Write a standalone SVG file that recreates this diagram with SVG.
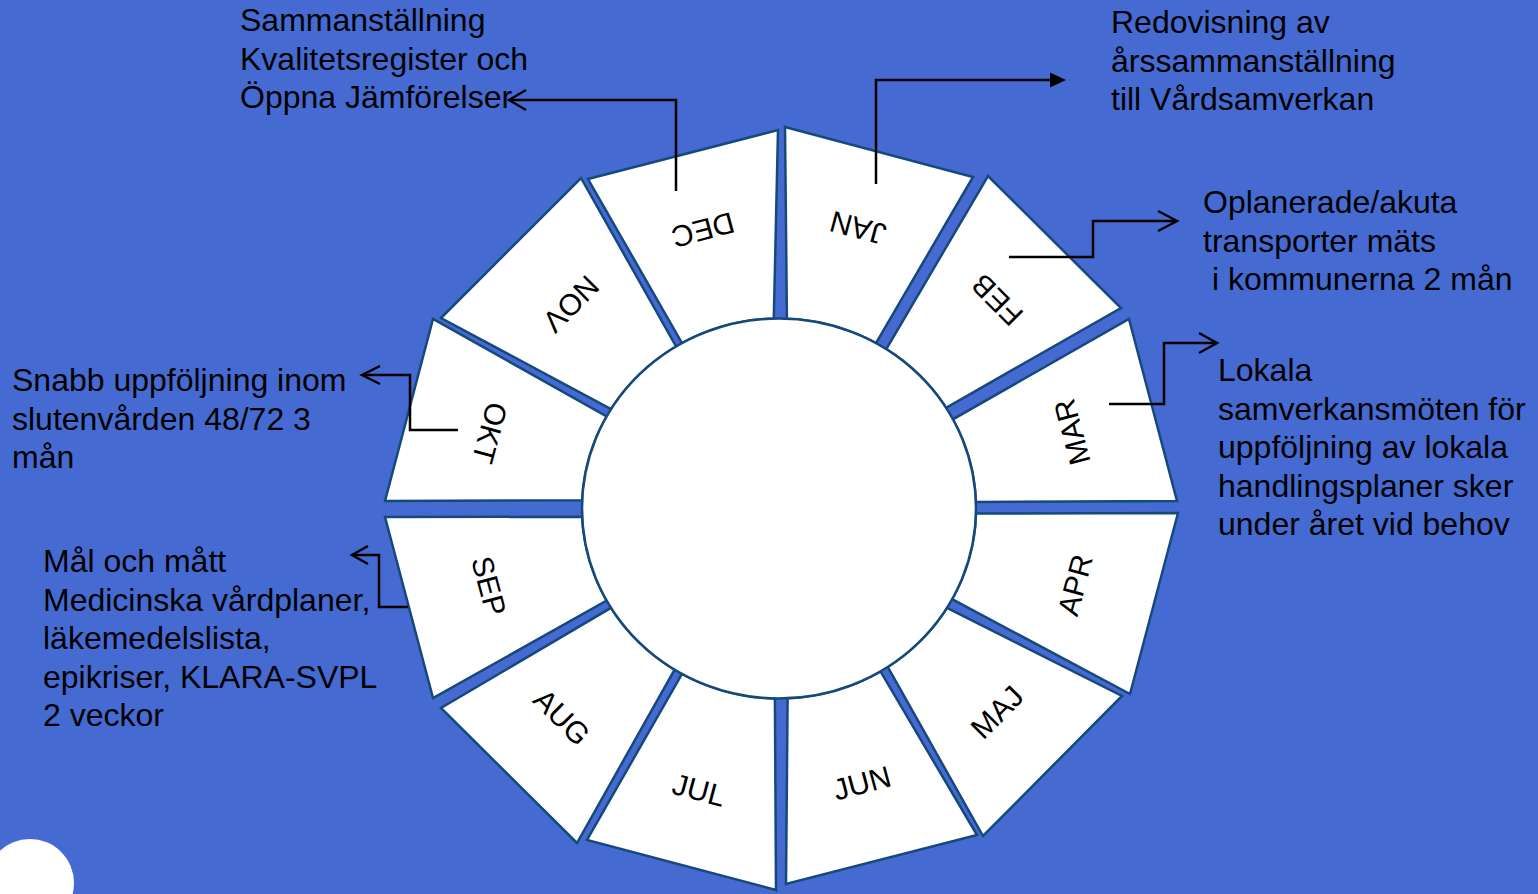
<svg xmlns="http://www.w3.org/2000/svg" width="1538" height="894" viewBox="0 0 1538 894">
<defs>
<style>
.seg{fill:#ffffff;stroke:#15497b;stroke-width:2.5;stroke-linejoin:miter}
.mon{font-family:"Liberation Sans",Arial,sans-serif;font-size:30px;fill:#000;text-anchor:middle;dominant-baseline:central}
.lbl{font-family:"Liberation Sans",Arial,sans-serif;font-size:32px;fill:#000}
.con{fill:none;stroke:#000;stroke-width:2.5}
.head{fill:none;stroke:#000;stroke-width:2.5}
</style>
</defs>
<rect x="0" y="0" width="1538" height="894" fill="#456bd3"/>
<circle cx="30" cy="883" r="44" fill="#ffffff"/>

<g id="wheel">
<g id="seg-jan"><path class="seg" d="M785,127 L973,177 L876.0,343.1 A197,190 0 0 0 786.9,318.7 Z"/><text class="mon" transform="translate(858,228) rotate(195)">JAN</text></g>
<g id="seg-feb"><path class="seg" d="M988,176 L1121,308 L946.1,407.8 A197,190 0 0 0 886.3,349.1 Z"/><text class="mon" transform="translate(997,300) rotate(225)">FEB</text></g>
<g id="seg-mar"><path class="seg" d="M1129,319 L1177,501 L975.9,501.9 A197,190 0 0 0 952.9,419.3 Z"/><text class="mon" transform="translate(1072,432) rotate(255)">MAR</text></g>
<g id="seg-apr"><path class="seg" d="M1178,513 L1130,694 L952.1,599.2 A197,190 0 0 0 976.0,513.5 Z"/><text class="mon" transform="translate(1075,585) rotate(285)">APR</text></g>
<g id="seg-maj"><path class="seg" d="M1122,696 L983,836 L887.7,666.9 A197,190 0 0 0 947.0,607.8 Z"/><text class="mon" transform="translate(997,712) rotate(315)">MAJ</text></g>
<g id="seg-jun"><path class="seg" d="M977,835 L786,884 L787.6,698.3 A197,190 0 0 0 880.5,671.4 Z"/><text class="mon" transform="translate(862,783) rotate(345)">JUN</text></g>
<g id="seg-jul"><path class="seg" d="M776,890 L587,840 L682.0,673.9 A197,190 0 0 0 774.9,698.5 Z"/><text class="mon" transform="translate(699,790) rotate(15)">JUL</text></g>
<g id="seg-aug"><path class="seg" d="M577,843 L441,708 L611.0,607.8 A197,190 0 0 0 674.6,669.6 Z"/><text class="mon" transform="translate(562,717) rotate(45)">AUG</text></g>
<g id="seg-sep"><path class="seg" d="M433,698 L385,517 L582.2,516.8 A197,190 0 0 0 606.7,600.6 Z"/><text class="mon" transform="translate(489,586) rotate(75)">SEP</text></g>
<g id="seg-okt"><path class="seg" d="M385,501 L433,319 L606.7,416.4 A197,190 0 0 0 582.2,500.2 Z"/><text class="mon" transform="translate(490,433) rotate(105)">OKT</text></g>
<g id="seg-nov"><path class="seg" d="M441,318 L581,178 L676.1,346.5 A197,190 0 0 0 611.0,409.2 Z"/><text class="mon" transform="translate(571,304) rotate(135)">NOV</text></g>
<g id="seg-dec"><path class="seg" d="M588,179 L778,130 L773.8,318.6 A197,190 0 0 0 682.0,343.1 Z"/><text class="mon" transform="translate(703,230) rotate(165)">DEC</text></g>
<g id="center"><ellipse cx="779" cy="508.5" rx="197" ry="190" fill="#ffffff" stroke="#15497b" stroke-width="2.5"/></g>
</g>

<g id="connectors">
<polyline class="con" points="676,191 676,100 509,100"/>
<polyline class="head" points="526,90 509,100 526,110"/>
<polyline class="con" points="876,184 876,80 1052,80"/>
<polygon points="1050,72.5 1066,80 1050,87.5" fill="#000"/>
<polyline class="con" points="1009,257 1093,257 1093,221 1176,221"/>
<polyline class="head" points="1158,211 1177,221 1158,231"/>
<polyline class="con" points="1109,404 1164,404 1164,343 1216,343"/>
<polyline class="head" points="1199,333 1217,343 1199,353"/>
<polyline class="con" points="458,430 410,430 410,375 363,375"/>
<polyline class="head" points="380,366 362,375 380,384"/>
<polyline class="con" points="408,607 379,607 379,555 353,555"/>
<polyline class="head" points="368,546 352,555 368,564"/>
</g>

<g id="note-dec"><text class="lbl" x="240" y="31">Sammanställning</text><text class="lbl" x="240" y="69.5">Kvalitetsregister och</text><text class="lbl" x="240" y="108">Öppna Jämförelser</text></g>
<g id="note-jan"><text class="lbl" x="1111" y="33">Redovisning av</text><text class="lbl" x="1111" y="71.5">årssammanställning</text><text class="lbl" x="1111" y="110">till Vårdsamverkan</text></g>
<g id="note-feb"><text class="lbl" x="1203" y="213">Oplanerade/akuta</text><text class="lbl" x="1203" y="251.5">transporter mäts</text><text class="lbl" x="1203" y="290" xml:space="preserve"> i kommunerna 2 mån</text></g>
<g id="note-mar"><text class="lbl" x="1218" y="381">Lokala</text><text class="lbl" x="1218" y="419.5">samverkansmöten för</text><text class="lbl" x="1218" y="458">uppföljning av lokala</text><text class="lbl" x="1218" y="496.5">handlingsplaner sker</text><text class="lbl" x="1218" y="535">under året vid behov</text></g>
<g id="note-okt"><text class="lbl" x="12" y="391">Snabb uppföljning inom</text><text class="lbl" x="12" y="429.5">slutenvården 48/72 3</text><text class="lbl" x="12" y="468">mån</text></g>
<g id="note-sep"><text class="lbl" x="43" y="572">Mål och mått</text><text class="lbl" x="43" y="610.5">Medicinska vårdplaner,</text><text class="lbl" x="43" y="649">läkemedelslista,</text><text class="lbl" x="43" y="687.5">epikriser, KLARA-SVPL</text><text class="lbl" x="43" y="726">2 veckor</text></g>
</svg>
